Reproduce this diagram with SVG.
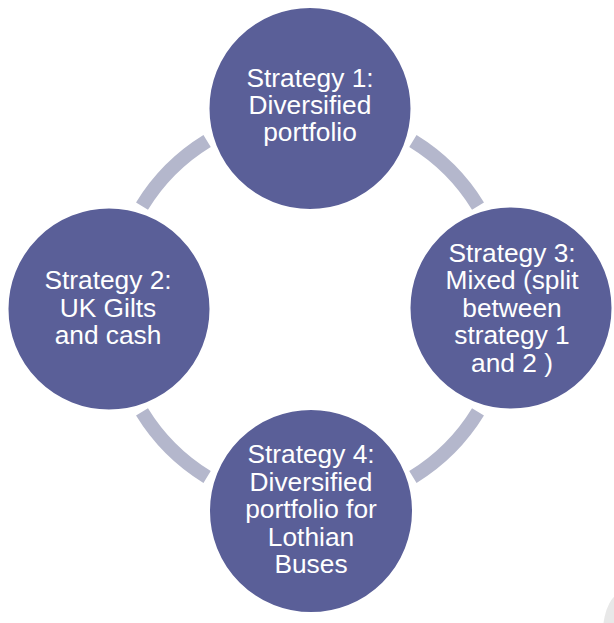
<svg xmlns="http://www.w3.org/2000/svg" width="614" height="623" viewBox="0 0 614 623">
<style>
.arc{fill:none;stroke:#b4b7cc;stroke-width:14;stroke-linecap:butt}
.node circle{fill:#5a5f98;stroke:#ffffff;stroke-width:2}
.node text{fill:#ffffff;font-family:"Liberation Sans",Arial,sans-serif;font-size:26.3px;text-anchor:middle}
</style>
<rect width="614" height="623" fill="#ffffff"/>
<ellipse cx="624" cy="632" rx="21" ry="40" fill="#e8e8e8"/>
<g id="connectors">
<path class="arc" d="M412.9,141.0 A197,197 0 0 1 478.0,206.1"/>
<path class="arc" d="M478.0,411.9 A197,197 0 0 1 412.9,477.0"/>
<path class="arc" d="M207.1,477.0 A197,197 0 0 1 142.0,411.9"/>
<path class="arc" d="M142.0,206.1 A197,197 0 0 1 207.1,141.0"/>
</g>
<g id="strategy1" class="node">
<circle cx="310" cy="108.5" r="101.5"/>
<text x="310" y="86.6">Strategy 1:</text>
<text x="310" y="114">Diversified</text>
<text x="310" y="141.4">portfolio</text>
</g>
<g id="strategy3" class="node">
<circle cx="511" cy="308" r="101.5"/>
<text x="512" y="262">Strategy 3:</text>
<text x="512" y="289.4">Mixed (split</text>
<text x="512" y="316.8">between</text>
<text x="512" y="344.2">strategy 1</text>
<text x="512" y="371.6">and 2 )</text>
</g>
<g id="strategy4" class="node">
<circle cx="311" cy="511" r="102"/>
<text x="311" y="463.3">Strategy 4:</text>
<text x="311" y="490.7">Diversified</text>
<text x="311" y="518.1">portfolio for</text>
<text x="311" y="545.5">Lothian</text>
<text x="311" y="572.9">Buses</text>
</g>
<g id="strategy2" class="node">
<circle cx="109" cy="309" r="101.5"/>
<text x="108" y="289.3">Strategy 2:</text>
<text x="108" y="316.7">UK Gilts</text>
<text x="108" y="344.1">and cash</text>
</g>
</svg>
